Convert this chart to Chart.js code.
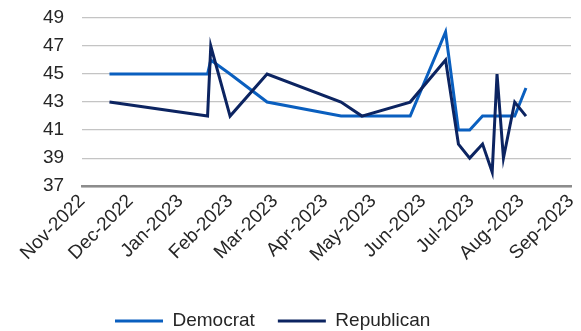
<!DOCTYPE html>
<html>
<head>
<meta charset="utf-8">
<script src="https://cdn.jsdelivr.net/npm/chart.js@4"></script>
<style>
  html, body { margin: 0; padding: 0; background: #ffffff; }
  #wrap { width: 581px; height: 331px; }
</style>
</head>
<body>
<div id="wrap"><canvas id="c" width="581" height="331"></canvas></div>
<script>
const surveyDates = ['2022-11-18','2023-01-18','2023-01-20','2023-02-01','2023-02-24','2023-04-11','2023-04-24','2023-05-24','2023-06-15','2023-06-23','2023-06-30','2023-07-08','2023-07-14','2023-07-17','2023-07-21','2023-07-28','2023-08-04'];
const democrat   = [45,45,46,45,43,42,42,42,48,41,41,42,42,42,42,42,44];
const republican = [43,42,47,42,45,43,42,43,46,40,39,40,38,45,39,43,42];
const monthTicks = ['2022-11-01','2022-12-01','2023-01-01','2023-02-01','2023-03-01','2023-04-01','2023-05-01','2023-06-01','2023-07-01','2023-08-01','2023-09-01'];
const monthNames = ['Jan','Feb','Mar','Apr','May','Jun','Jul','Aug','Sep','Oct','Nov','Dec'];
const yTicks = [37,39,41,43,45,47,49];

const ts = s => { const [y,m,d] = s.split('-').map(Number); return Date.UTC(y, m-1, d); };
const fmt = v => { const d = new Date(v); return monthNames[d.getUTCMonth()] + '-' + d.getUTCFullYear(); };
const pts = vals => surveyDates.map((s,i) => ({x: ts(s), y: vals[i]}));

const FONT = "'Liberation Sans', Arial, sans-serif";
const TXT = '#262626';
const LEG_PAD = 23;

const legendPlace = {
  id: 'legendPlace',
  beforeInit(chart) {
    const lg = chart.legend;
    if (!lg) return;
    const orig = lg.fit.bind(lg);
    lg.fit = function () { orig(); this.height = 46; };
  },
  afterLayout(chart) {
    const lg = chart.legend;
    if (!lg) return;
    const w = lg.right - lg.left;
    lg.left = 115 - LEG_PAD;
    lg.right = lg.left + w;
    lg.top = 321 - LEG_PAD - 9.5;
  }
};

new Chart(document.getElementById('c'), {
  type: 'line',
  data: {
    datasets: [
      { label: 'Democrat', data: pts(democrat), borderColor: '#0a5fbf', backgroundColor: '#0a5fbf',
        borderWidth: 3, pointRadius: 0, tension: 0, order: 1 },
      { label: 'Republican', data: pts(republican), borderColor: '#0c2461', backgroundColor: '#0c2461',
        borderWidth: 3, pointRadius: 0, tension: 0, order: 0 }
    ]
  },
  plugins: [legendPlace],
  options: {
    responsive: false,
    animation: false,
    devicePixelRatio: 1,
    layout: { padding: { left: 41, right: 0, top: 18, bottom: 0 } },
    plugins: {
      tooltip: { enabled: false },
      legend: {
        position: 'bottom',
        align: 'start',
        labels: {
          usePointStyle: true, pointStyle: 'line', pointStyleWidth: 48,
          font: { family: FONT, size: 19 }, color: TXT, padding: LEG_PAD,
          sort: (a, b) => a.datasetIndex - b.datasetIndex
        }
      }
    },
    scales: {
      x: {
        type: 'linear',
        min: ts(monthTicks[0]),
        max: ts(monthTicks[monthTicks.length-1]),
        afterBuildTicks: s => { s.ticks = monthTicks.map(m => ({value: ts(m)})); },
        afterFit: s => { s.height += 15; s.paddingLeft = 0; s.paddingRight = 10; },
        grid: { display: false, drawTicks: false },
        border: { display: true, color: '#8c8c8c', width: 2.5 },
        ticks: {
          autoSkip: false, maxRotation: 45, minRotation: 45, padding: 4,
          font: { family: FONT, size: 19 }, color: TXT,
          callback: v => fmt(v)
        }
      },
      y: {
        min: 37, max: 49,
        afterBuildTicks: s => { s.ticks = yTicks.map(v => ({value: v})); },
        grid: { color: '#c4c4c4', lineWidth: 1.2, drawTicks: true, tickLength: 16, tickColor: 'rgba(0,0,0,0)' },
        border: { display: false },
        ticks: { autoSkip: false, padding: 2, font: { family: FONT, size: 19 }, color: TXT }
      }
    }
  }
});
</script>
</body>
</html>
